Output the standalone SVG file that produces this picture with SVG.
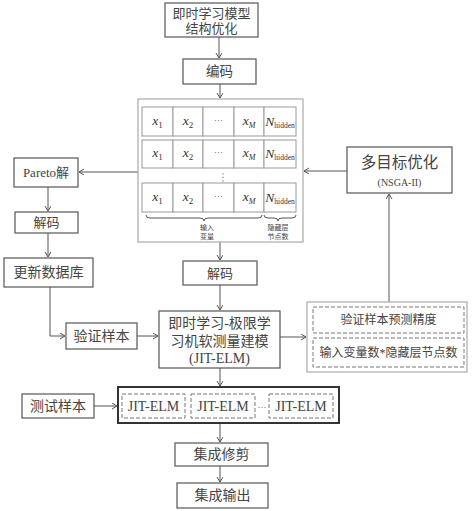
<svg xmlns="http://www.w3.org/2000/svg" width="474" height="511" viewBox="0 0 474 511">
<defs>
<marker id="ah" markerWidth="8" markerHeight="8" refX="5" refY="3" orient="auto" markerUnits="userSpaceOnUse">
<path d="M0,0 L5,3 L0,6" fill="none" stroke="#555" stroke-width="1"/>
</marker>
<style>
.box{fill:#fff;stroke:#555;stroke-width:1.2}
.lbox{fill:#fff;stroke:#aaa;stroke-width:1.2}
.cell{fill:#fff;stroke:#999;stroke-width:1}
.dash{fill:none;stroke:#777;stroke-width:1;stroke-dasharray:4,2}
.t{font-family:"Liberation Serif","Noto Sans CJK SC",serif;fill:#444;text-anchor:middle}
.m{font-family:"Liberation Serif",serif;font-style:italic;fill:#333;text-anchor:middle;font-size:13.5px}
.c{fill:none;stroke:#555;stroke-width:1;marker-end:url(#ah)}
.cl{fill:none;stroke:#555;stroke-width:1}
</style>
</defs>
<rect width="474" height="511" fill="#fff"/>

<g id="connectors">
<line class="c" x1="219" y1="37" x2="219" y2="58"/>
<line class="c" x1="220" y1="84" x2="220" y2="98"/>
<line class="c" x1="138" y1="172" x2="79" y2="172"/>
<line class="c" x1="48" y1="187" x2="48" y2="211"/>
<line class="c" x1="48" y1="233" x2="48" y2="257"/>
<polyline class="c" points="50,287 50,336 65,336"/>
<line class="c" x1="137" y1="336" x2="158" y2="336"/>
<line class="c" x1="220" y1="242" x2="220" y2="260"/>
<line class="c" x1="220" y1="285" x2="220" y2="310"/>
<line class="c" x1="347" y1="171" x2="304" y2="171"/>
<line class="c" x1="389" y1="302" x2="389" y2="194"/>
<line class="c" x1="280" y1="337" x2="306" y2="337"/>
<line class="c" x1="94" y1="406" x2="117" y2="406"/>
<line class="c" x1="220" y1="368" x2="220" y2="386"/>
<line class="c" x1="220" y1="423" x2="220" y2="442"/>
<line class="c" x1="220" y1="466" x2="220" y2="482"/>
</g>

<g id="top">
<rect class="box" x="165" y="3" width="93" height="34"/>
<text class="t" x="211.5" y="18" font-size="13">即时学习模型</text>
<text class="t" x="211.5" y="33" font-size="13">结构优化</text>
</g>

<g id="encode">
<rect class="box" x="183" y="59" width="73" height="25"/>
<text class="t" x="219.5" y="76" font-size="13.5">编码</text>
</g>

<g id="population">
<rect class="lbox" x="138" y="99" width="165" height="143"/>
<g id="row1">
<rect class="cell" x="142" y="107" width="31" height="29"/>
<rect class="cell" x="173" y="107" width="30" height="29"/>
<rect class="cell" x="203" y="107" width="31" height="29"/>
<rect class="cell" x="234" y="107" width="30" height="29"/>
<rect class="cell" x="264" y="107" width="32" height="29"/>
<text class="m" x="157.5" y="125">x<tspan font-size="9" dy="3" font-style="normal">1</tspan></text>
<text class="m" x="188" y="125">x<tspan font-size="9" dy="3" font-style="normal">2</tspan></text>
<text class="t" x="218.5" y="123" font-size="9">···</text>
<text class="m" x="249" y="125">x<tspan font-size="8" dy="3">M</tspan></text>
<text class="m" x="280" y="126" font-size="15.5">N<tspan font-size="7.5" dy="2" font-style="normal">hidden</tspan></text>
</g>
<g id="row2">
<rect class="cell" x="142" y="140" width="31" height="28"/>
<rect class="cell" x="173" y="140" width="30" height="28"/>
<rect class="cell" x="203" y="140" width="31" height="28"/>
<rect class="cell" x="234" y="140" width="30" height="28"/>
<rect class="cell" x="264" y="140" width="32" height="28"/>
<text class="m" x="157.5" y="157">x<tspan font-size="9" dy="3" font-style="normal">1</tspan></text>
<text class="m" x="188" y="157">x<tspan font-size="9" dy="3" font-style="normal">2</tspan></text>
<text class="t" x="218.5" y="155" font-size="9">···</text>
<text class="m" x="249" y="157">x<tspan font-size="8" dy="3">M</tspan></text>
<text class="m" x="280" y="158" font-size="15.5">N<tspan font-size="7.5" dy="2" font-style="normal">hidden</tspan></text>
</g>
<g fill="#777">
<circle cx="223" cy="174" r="0.7"/>
<circle cx="223" cy="177.5" r="0.7"/>
<circle cx="223" cy="181" r="0.7"/>
</g>
<g id="row3">
<rect class="cell" x="142" y="183" width="31" height="29"/>
<rect class="cell" x="173" y="183" width="30" height="29"/>
<rect class="cell" x="203" y="183" width="31" height="29"/>
<rect class="cell" x="234" y="183" width="30" height="29"/>
<rect class="cell" x="264" y="183" width="32" height="29"/>
<text class="m" x="157.5" y="201">x<tspan font-size="9" dy="3" font-style="normal">1</tspan></text>
<text class="m" x="188" y="201">x<tspan font-size="9" dy="3" font-style="normal">2</tspan></text>
<text class="t" x="218.5" y="199" font-size="9">···</text>
<text class="m" x="249" y="201">x<tspan font-size="8" dy="3">M</tspan></text>
<text class="m" x="280" y="202" font-size="15.5">N<tspan font-size="7.5" dy="2" font-style="normal">hidden</tspan></text>
</g>
<path class="cl" d="M146,215 Q146,218 150,218 L200,218 Q204,218 204,221 Q204,218 208,218 L258,218 Q262,218 262,215" stroke="#888"/>
<path class="cl" d="M264,215 Q264,218 268,218 L274,218 Q278,218 278,221 Q278,218 282,218 L292,218 Q296,218 296,215" stroke="#888"/>
<text class="t" x="207" y="230" font-size="7">输入</text>
<text class="t" x="207" y="239" font-size="7">变量</text>
<text class="t" x="278" y="230" font-size="7">隐藏层</text>
<text class="t" x="278" y="239" font-size="7">节点数</text>
</g>

<g id="pareto">
<rect class="box" x="14" y="158" width="64" height="29"/>
<text class="t" x="46" y="177" font-size="13">Pareto解</text>
</g>

<g id="decode-left">
<rect class="box" x="15" y="212" width="63" height="21"/>
<text class="t" x="46.5" y="227" font-size="13">解码</text>
</g>

<g id="update-db">
<rect class="box" x="4" y="258" width="89" height="29"/>
<text class="t" x="48.5" y="277" font-size="14">更新数据库</text>
</g>

<g id="val-sample">
<rect class="box" x="66" y="323" width="71" height="26"/>
<text class="t" x="101.5" y="341" font-size="14">验证样本</text>
</g>

<g id="decode-mid">
<rect class="box" x="183" y="261" width="74" height="24"/>
<text class="t" x="220" y="278" font-size="13">解码</text>
</g>

<g id="jit-elm">
<rect class="box" x="159" y="311" width="121" height="57"/>
<text class="t" x="219.5" y="328" font-size="14">即时学习-极限学</text>
<text class="t" x="219.5" y="346" font-size="14">习机软测量建模</text>
<text class="t" x="219.5" y="363" font-size="14">(JIT-ELM)</text>
</g>

<g id="nsga">
<rect class="box" x="347" y="147" width="105" height="46"/>
<text class="t" x="399.5" y="168" font-size="15.5">多目标优化</text>
<text class="t" x="399.5" y="186" font-size="10">(NSGA-II)</text>
</g>

<g id="objectives">
<rect class="lbox" x="307" y="302" width="160" height="70"/>
<rect class="dash" x="313" y="307" width="151" height="26"/>
<text class="t" x="388.5" y="324" font-size="12">验证样本预测精度</text>
<rect class="dash" x="313" y="338" width="151" height="29"/>
<text class="t" x="388.5" y="357" font-size="12">输入变量数*隐藏层节点数</text>
</g>

<g id="test-sample">
<rect class="box" x="22" y="394" width="72" height="24"/>
<text class="t" x="58" y="411" font-size="14">测试样本</text>
</g>

<g id="ensemble">
<rect x="118" y="387" width="221" height="36" fill="#fff" stroke="#333" stroke-width="2"/>
<rect class="dash" x="122" y="394" width="63" height="24"/>
<text class="t" x="153.5" y="411" font-size="14">JIT-ELM</text>
<rect class="dash" x="191" y="394" width="64" height="24"/>
<text class="t" x="223" y="411" font-size="14">JIT-ELM</text>
<text class="t" x="262" y="410" font-size="9">···</text>
<rect class="dash" x="269" y="394" width="64" height="24"/>
<text class="t" x="301" y="411" font-size="14">JIT-ELM</text>
</g>

<g id="prune">
<rect class="box" x="175" y="443" width="93" height="23"/>
<text class="t" x="221.5" y="459" font-size="14">集成修剪</text>
</g>

<g id="output">
<rect class="box" x="177" y="483" width="91" height="25"/>
<text class="t" x="222.5" y="500" font-size="14">集成输出</text>
</g>
</svg>
